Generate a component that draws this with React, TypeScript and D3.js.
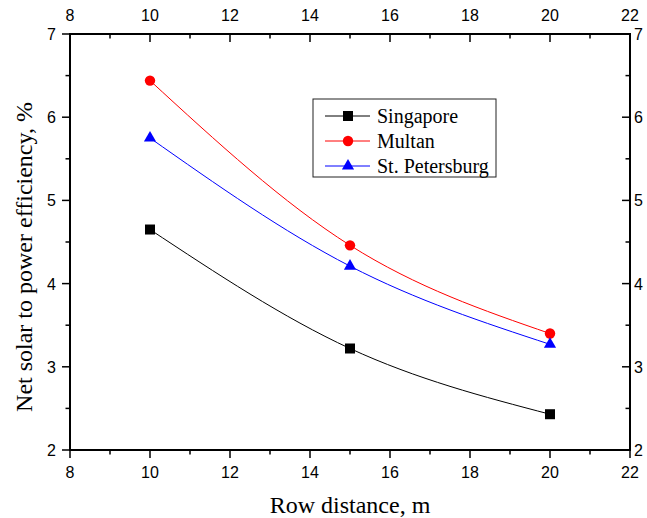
import React from 'react';
import * as d3 from 'd3';

// row distance, m
const distances = [10, 15, 20];
const singapore = [4.65, 3.22, 2.43];
const multan = [6.44, 4.46, 3.40];
const stPetersburg = [5.75, 4.21, 3.27];

const xTicks = [8, 10, 12, 14, 16, 18, 20, 22];
const xMinor = [9, 11, 13, 15, 17, 19, 21];
const yTicks = [2, 3, 4, 5, 6, 7];
const yMinor = [2.5, 3.5, 4.5, 5.5, 6.5];

const series = [
  { name: 'Singapore', values: singapore, color: '#000000', marker: 'square' },
  { name: 'Multan', values: multan, color: '#ff0000', marker: 'circle' },
  { name: 'St. Petersburg', values: stPetersburg, color: '#0000ff', marker: 'triangle' },
];

const W = 647;
const H = 518;
const margin = { top: 34, right: 17, bottom: 68, left: 70 };

const Marker = ({ type, x, y, color }: { type: string; x: number; y: number; color: string }) => {
  if (type === 'square') return <rect x={x - 5} y={y - 5} width={10} height={10} fill={color} />;
  if (type === 'circle') return <circle cx={x} cy={y} r={5.2} fill={color} />;
  const tri = d3.symbol().type(d3.symbolTriangle).size(64)();
  return <path d={tri || ''} transform={`translate(${x},${y})`} fill={color} />;
};

export default function App() {
  const x = d3.scaleLinear().domain([8, 22]).range([margin.left, W - margin.right]);
  const y = d3.scaleLinear().domain([2, 7]).range([H - margin.bottom, margin.top]);
  const x0 = x.range()[0], x1 = x.range()[1];
  const y0 = y.range()[0], y1 = y.range()[1];

  const line = d3.line<number>()
    .x((_, i) => x(distances[i]))
    .y(d => y(d))
    .curve(d3.curveNatural);

  const tickFont = { fontFamily: 'Liberation Sans, Arial, sans-serif', fontSize: 16 };
  const serif = 'Liberation Serif, Times New Roman, serif';

  const legend = { x: 313, y: 99, w: 183, h: 78 };

  return (
    <svg width={W} height={H} style={{ position: 'absolute', left: 0, top: 0, background: '#fff' }}>
      {/* curves */}
      {series.map(s => (
        <path key={s.name} d={line(s.values) || ''} fill="none" stroke={s.color} strokeWidth={1} />
      ))}
      {series.map(s =>
        s.values.map((v, i) => (
          <Marker key={s.name + i} type={s.marker} x={x(distances[i])} y={y(v)} color={s.color} />
        ))
      )}

      {/* frame */}
      <rect x={x0} y={y1} width={x1 - x0} height={y0 - y1} fill="none" stroke="#000" strokeWidth={2} />

      {/* x ticks: bottom out, top in */}
      {xTicks.map(t => (
        <g key={'xt' + t}>
          <line x1={x(t)} x2={x(t)} y1={y0} y2={y0 + 8} stroke="#000" strokeWidth={1.5} />
          <line x1={x(t)} x2={x(t)} y1={y1} y2={y1 + 8} stroke="#000" strokeWidth={1.5} />
          <text x={x(t)} y={y0 + 28} textAnchor="middle" {...tickFont}>{t}</text>
          <text x={x(t)} y={y1 - 13} textAnchor="middle" {...tickFont}>{t}</text>
        </g>
      ))}
      {xMinor.map(t => (
        <g key={'xm' + t}>
          <line x1={x(t)} x2={x(t)} y1={y0} y2={y0 + 4.5} stroke="#000" strokeWidth={1.5} />
          <line x1={x(t)} x2={x(t)} y1={y1} y2={y1 + 4.5} stroke="#000" strokeWidth={1.5} />
        </g>
      ))}

      {/* y ticks: left out, right in */}
      {yTicks.map(t => (
        <g key={'yt' + t}>
          <line x1={x0 - 8} x2={x0} y1={y(t)} y2={y(t)} stroke="#000" strokeWidth={1.5} />
          <line x1={x1 - 8} x2={x1} y1={y(t)} y2={y(t)} stroke="#000" strokeWidth={1.5} />
          <text x={x0 - 14} y={y(t) + 6} textAnchor="end" {...tickFont}>{t}</text>
          <text x={x1 + 4} y={y(t) + 6} textAnchor="start" {...tickFont}>{t}</text>
        </g>
      ))}
      {yMinor.map(t => (
        <g key={'ym' + t}>
          <line x1={x0 - 4.5} x2={x0} y1={y(t)} y2={y(t)} stroke="#000" strokeWidth={1.5} />
          <line x1={x1 - 4.5} x2={x1} y1={y(t)} y2={y(t)} stroke="#000" strokeWidth={1.5} />
        </g>
      ))}

      {/* axis titles */}
      <text x={x(15)} y={513} textAnchor="middle" fontFamily={serif} fontSize={24}>Row distance, m</text>
      <text transform="translate(32,257) rotate(-90)" textAnchor="middle" fontFamily={serif} fontSize={24}>
        Net solar to power efficiency, %
      </text>

      {/* legend */}
      <rect x={legend.x} y={legend.y} width={legend.w} height={legend.h} fill="#fff" stroke="#222" strokeWidth={1} />
      {series.map((s, i) => {
        const ly = legend.y + 17 + i * 25;
        return (
          <g key={'lg' + s.name}>
            <line x1={legend.x + 12} x2={legend.x + 57} y1={ly} y2={ly} stroke={s.color} strokeWidth={1} />
            <Marker type={s.marker} x={legend.x + 35} y={ly} color={s.color} />
            <text x={legend.x + 64} y={ly + 7} fontFamily={serif} fontSize={20}>{s.name}</text>
          </g>
        );
      })}
    </svg>
  );
}
